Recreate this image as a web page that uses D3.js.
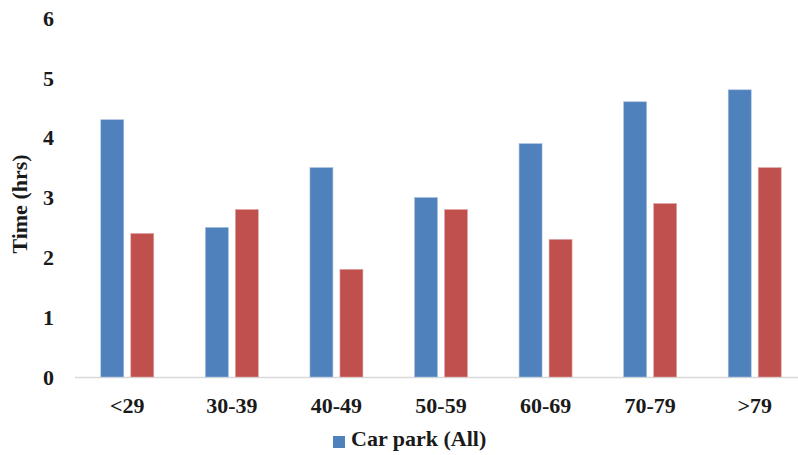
<!DOCTYPE html>
<html>
<head>
<meta charset="utf-8">
<script src="https://cdn.jsdelivr.net/npm/d3@7"></script>
<style>
body { margin: 0; background: #fff; }
</style>
</head>
<body>
<script>
var categories = ["<29", "30-39", "40-49", "50-59", "60-69", "70-79", ">79"];
var carParkAll = [4.3, 2.5, 3.5, 3.0, 3.9, 4.6, 4.8];
var otherSeries = [2.4, 2.8, 1.8, 2.8, 2.3, 2.9, 3.5];
var yTicks = [0, 1, 2, 3, 4, 5, 6];

var width = 798;
var height = 455;

var svg = d3.select("body")
            .append("svg")
            .attr("width", width)
            .attr("height", height);

var x = d3.scaleBand()
          .domain(categories)
          .range([75, 807]);

var y = d3.scaleLinear()
          .domain([0, 6])
          .range([377, 18]);

var barW = 23, gap = 7;

// axis baseline
svg.append("line")
   .attr("x1", 75)
   .attr("x2", width)
   .attr("y1", y(0) + 0.5)
   .attr("y2", y(0) + 0.5)
   .attr("stroke", "#d9d9d9")
   .attr("stroke-width", 1.5);

// y tick labels
svg.selectAll(".ytick")
   .data(yTicks)
   .enter()
   .append("text")
   .attr("x", 54)
   .attr("y", function(d) { return y(d); })
   .attr("dy", "0.35em")
   .attr("text-anchor", "end")
   .attr("font-family", "Liberation Serif")
   .attr("font-weight", "bold")
   .attr("font-size", "22px")
   .attr("fill", "#1a1a1a")
   .text(function(d) { return d; });

// y axis title
svg.append("text")
   .attr("transform", "translate(27,204) rotate(-90)")
   .attr("text-anchor", "middle")
   .attr("font-family", "Liberation Serif")
   .attr("font-weight", "bold")
   .attr("font-size", "22px")
   .attr("fill", "#1a1a1a")
   .text("Time (hrs)");

// bars
svg.selectAll(".blue")
   .data(carParkAll)
   .enter()
   .append("rect")
   .attr("x", function(d, i) { return x(categories[i]) + x.bandwidth() / 2 - gap / 2 - barW; })
   .attr("y", function(d) { return y(d); })
   .attr("width", barW)
   .attr("height", function(d) { return y(0) - y(d); })
   .attr("fill", "#4f81bd")
   .attr("stroke", "#a9c1e0")
   .attr("stroke-width", 0.6);

svg.selectAll(".red")
   .data(otherSeries)
   .enter()
   .append("rect")
   .attr("x", function(d, i) { return x(categories[i]) + x.bandwidth() / 2 + gap / 2; })
   .attr("y", function(d) { return y(d); })
   .attr("width", barW)
   .attr("height", function(d) { return y(0) - y(d); })
   .attr("fill", "#c0504d")
   .attr("stroke", "#e0a9a7")
   .attr("stroke-width", 0.6);

// x labels
svg.selectAll(".xtick")
   .data(categories)
   .enter()
   .append("text")
   .attr("x", function(d) { return x(d) + x.bandwidth() / 2; })
   .attr("y", 413)
   .attr("text-anchor", "middle")
   .attr("font-family", "Liberation Serif")
   .attr("font-weight", "bold")
   .attr("font-size", "22px")
   .attr("fill", "#1a1a1a")
   .text(function(d) { return d; });

// legend
svg.append("rect")
   .attr("x", 333)
   .attr("y", 436)
   .attr("width", 12)
   .attr("height", 12)
   .attr("fill", "#4f81bd");

svg.append("text")
   .attr("x", 351)
   .attr("y", 446)
   .attr("font-family", "Liberation Serif")
   .attr("font-weight", "bold")
   .attr("font-size", "22px")
   .attr("fill", "#1a1a1a")
   .text("Car park (All)");
</script>
</body>
</html>
